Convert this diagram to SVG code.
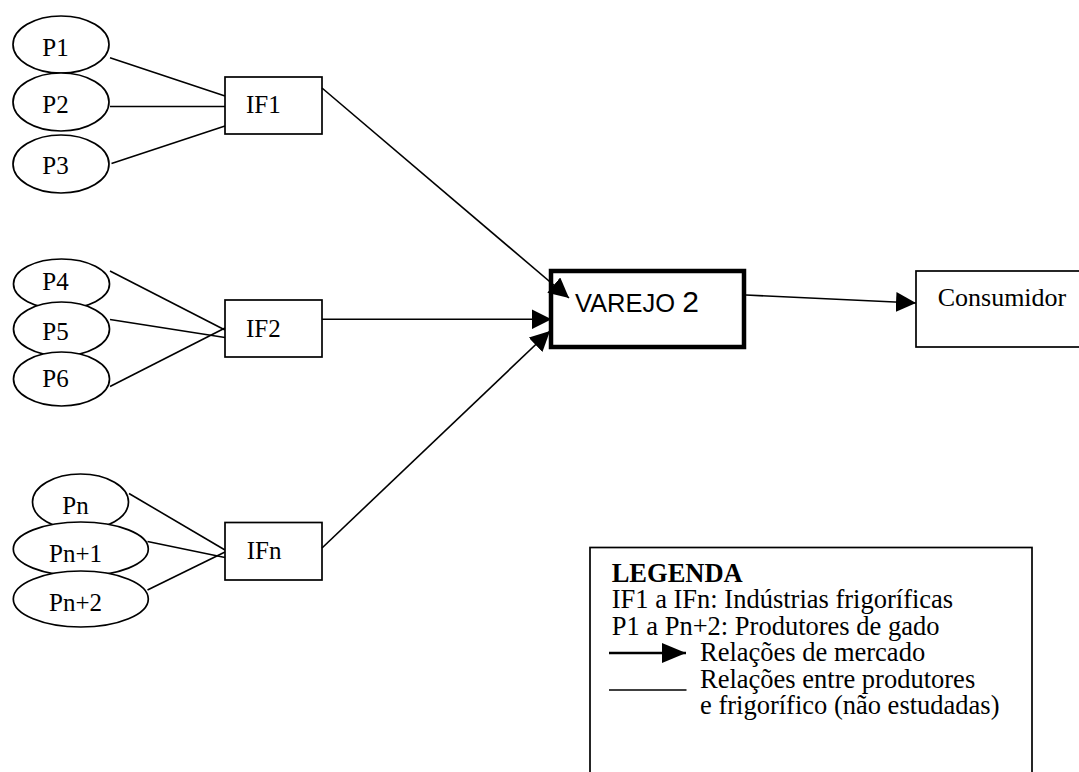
<svg xmlns="http://www.w3.org/2000/svg" width="1079" height="772" viewBox="0 0 1079 772">
  <style>
    .bg { fill: #ffffff; }
    .prod { fill: #ffffff; stroke: #000000; stroke-width: 1.7; }
    .box { fill: #ffffff; stroke: #000000; stroke-width: 1.7; }
    .varejo { fill: #ffffff; stroke: #000000; stroke-width: 4.5; }
    .link { fill: none; stroke: #000000; stroke-width: 1.6; }
    .market { fill: none; stroke: #000000; stroke-width: 1.6; marker-end: url(#head); }
    .serif { font-family: "Liberation Serif", "Times New Roman", serif; fill: #000000; }
    .node { font-size: 25px; }
    .leg { font-size: 26.5px; }
    .sans { font-family: "Liberation Sans", Arial, sans-serif; fill: #000000; }
  </style>
  <defs>
    <marker id="head" markerUnits="userSpaceOnUse" markerWidth="20" markerHeight="20" refX="20" refY="10" orient="auto" viewBox="0 0 20 20">
      <path d="M0,0 L20,10 L0,20 Z" fill="#000000"/>
    </marker>
    <marker id="headLeg" markerUnits="userSpaceOnUse" markerWidth="24" markerHeight="20" refX="24" refY="10" orient="auto" viewBox="0 0 24 20">
      <path d="M0,0 L24,10 L0,20 Z" fill="#000000"/>
    </marker>
  </defs>

  <rect class="bg" x="0" y="0" width="1079" height="772"/>

  <!-- producer to plant links (not studied) -->
  <g id="producer-links">
    <line class="link" x1="110" y1="57.7" x2="225" y2="96"/>
    <line class="link" x1="110" y1="106.5" x2="225" y2="106.5"/>
    <line class="link" x1="111.5" y1="163.5" x2="225" y2="126"/>
    <line class="link" x1="110" y1="271" x2="225" y2="330"/>
    <line class="link" x1="110" y1="319.5" x2="225" y2="337.5"/>
    <line class="link" x1="110" y1="386.5" x2="225" y2="328"/>
    <line class="link" x1="129" y1="493.5" x2="225" y2="550"/>
    <line class="link" x1="147.5" y1="541.5" x2="225" y2="557.5"/>
    <line class="link" x1="147.5" y1="590" x2="225" y2="552"/>
  </g>

  <!-- producers -->
  <g id="P1"><ellipse class="prod" cx="61" cy="44.5" rx="48" ry="28.5"/><text class="serif node" x="42.3" y="56">P1</text></g>
  <g id="P2"><ellipse class="prod" cx="61" cy="102" rx="48" ry="29"/><text class="serif node" x="42.3" y="113.3">P2</text></g>
  <g id="P3"><ellipse class="prod" cx="61" cy="164" rx="48" ry="29"/><text class="serif node" x="42.3" y="174">P3</text></g>

  <g id="P4"><ellipse class="prod" cx="61.5" cy="284" rx="48" ry="25"/><text class="serif node" x="42.3" y="290">P4</text></g>
  <g id="P5"><ellipse class="prod" cx="61.5" cy="329" rx="48" ry="27"/><text class="serif node" x="42.3" y="340">P5</text></g>
  <g id="P6"><ellipse class="prod" cx="61.5" cy="379" rx="48" ry="27"/><text class="serif node" x="42.3" y="386.7">P6</text></g>

  <g id="Pn"><ellipse class="prod" cx="80.5" cy="502" rx="48" ry="28"/><text class="serif node" x="62.3" y="514">Pn</text></g>
  <g id="Pn1"><ellipse class="prod" cx="80.8" cy="549" rx="67.5" ry="27"/><text class="serif node" x="49" y="561.7">Pn+1</text></g>
  <g id="Pn2"><ellipse class="prod" cx="80.8" cy="599" rx="67.5" ry="28"/><text class="serif node" x="49" y="610.7">Pn+2</text></g>

  <!-- meat packing plants -->
  <g id="IF1"><rect class="box" x="225" y="77" width="97" height="57"/><text class="serif node" x="246" y="113.3">IF1</text></g>
  <g id="IF2"><rect class="box" x="225" y="300" width="97" height="57"/><text class="serif node" x="246" y="336.7">IF2</text></g>
  <g id="IFn"><rect class="box" x="225" y="522.5" width="97" height="57.5"/><text class="serif node" x="246.7" y="559">IFn</text></g>

  <!-- retail -->
  <g id="varejo">
    <rect class="varejo" x="551" y="271" width="193" height="76"/>
    <text class="sans" x="575" y="311.7" font-size="25.5">VAREJO <tspan font-size="30">2</tspan></text>
  </g>

  <!-- consumer -->
  <g id="consumidor">
    <rect class="box" x="916" y="271" width="175" height="76"/>
    <text class="serif" x="937.7" y="305.7" font-size="26">Consumidor</text>
  </g>

  <!-- market relations -->
  <g id="connectors">
    <line class="market" x1="322" y1="88" x2="569" y2="298"/>
    <line class="market" x1="322" y1="319.3" x2="551.5" y2="319.3"/>
    <line class="market" x1="322" y1="548" x2="550" y2="331"/>
    <line class="market" x1="746" y1="295" x2="916" y2="303"/>
  </g>

  <!-- legend -->
  <g id="legenda">
    <rect class="box" x="590" y="547.5" width="442" height="240"/>
    <text class="serif leg" x="611.7" y="581.5" font-weight="bold">LEGENDA</text>
    <text class="serif leg" x="611.7" y="608">IF1 a IFn: Indústrias frigoríficas</text>
    <text class="serif leg" x="611.7" y="634.5">P1 a Pn+2: Produtores de gado</text>
    <line x1="609" y1="653" x2="686" y2="653" stroke="#000000" stroke-width="2.4" marker-end="url(#headLeg)"/>
    <text class="serif leg" x="700" y="661">Relações de mercado</text>
    <line x1="609" y1="690" x2="686.5" y2="690" stroke="#000000" stroke-width="1.6"/>
    <text class="serif leg" x="700" y="687.5">Relações entre produtores</text>
    <text class="serif leg" x="700" y="714">e frigorífico (não estudadas)</text>
  </g>
</svg>
